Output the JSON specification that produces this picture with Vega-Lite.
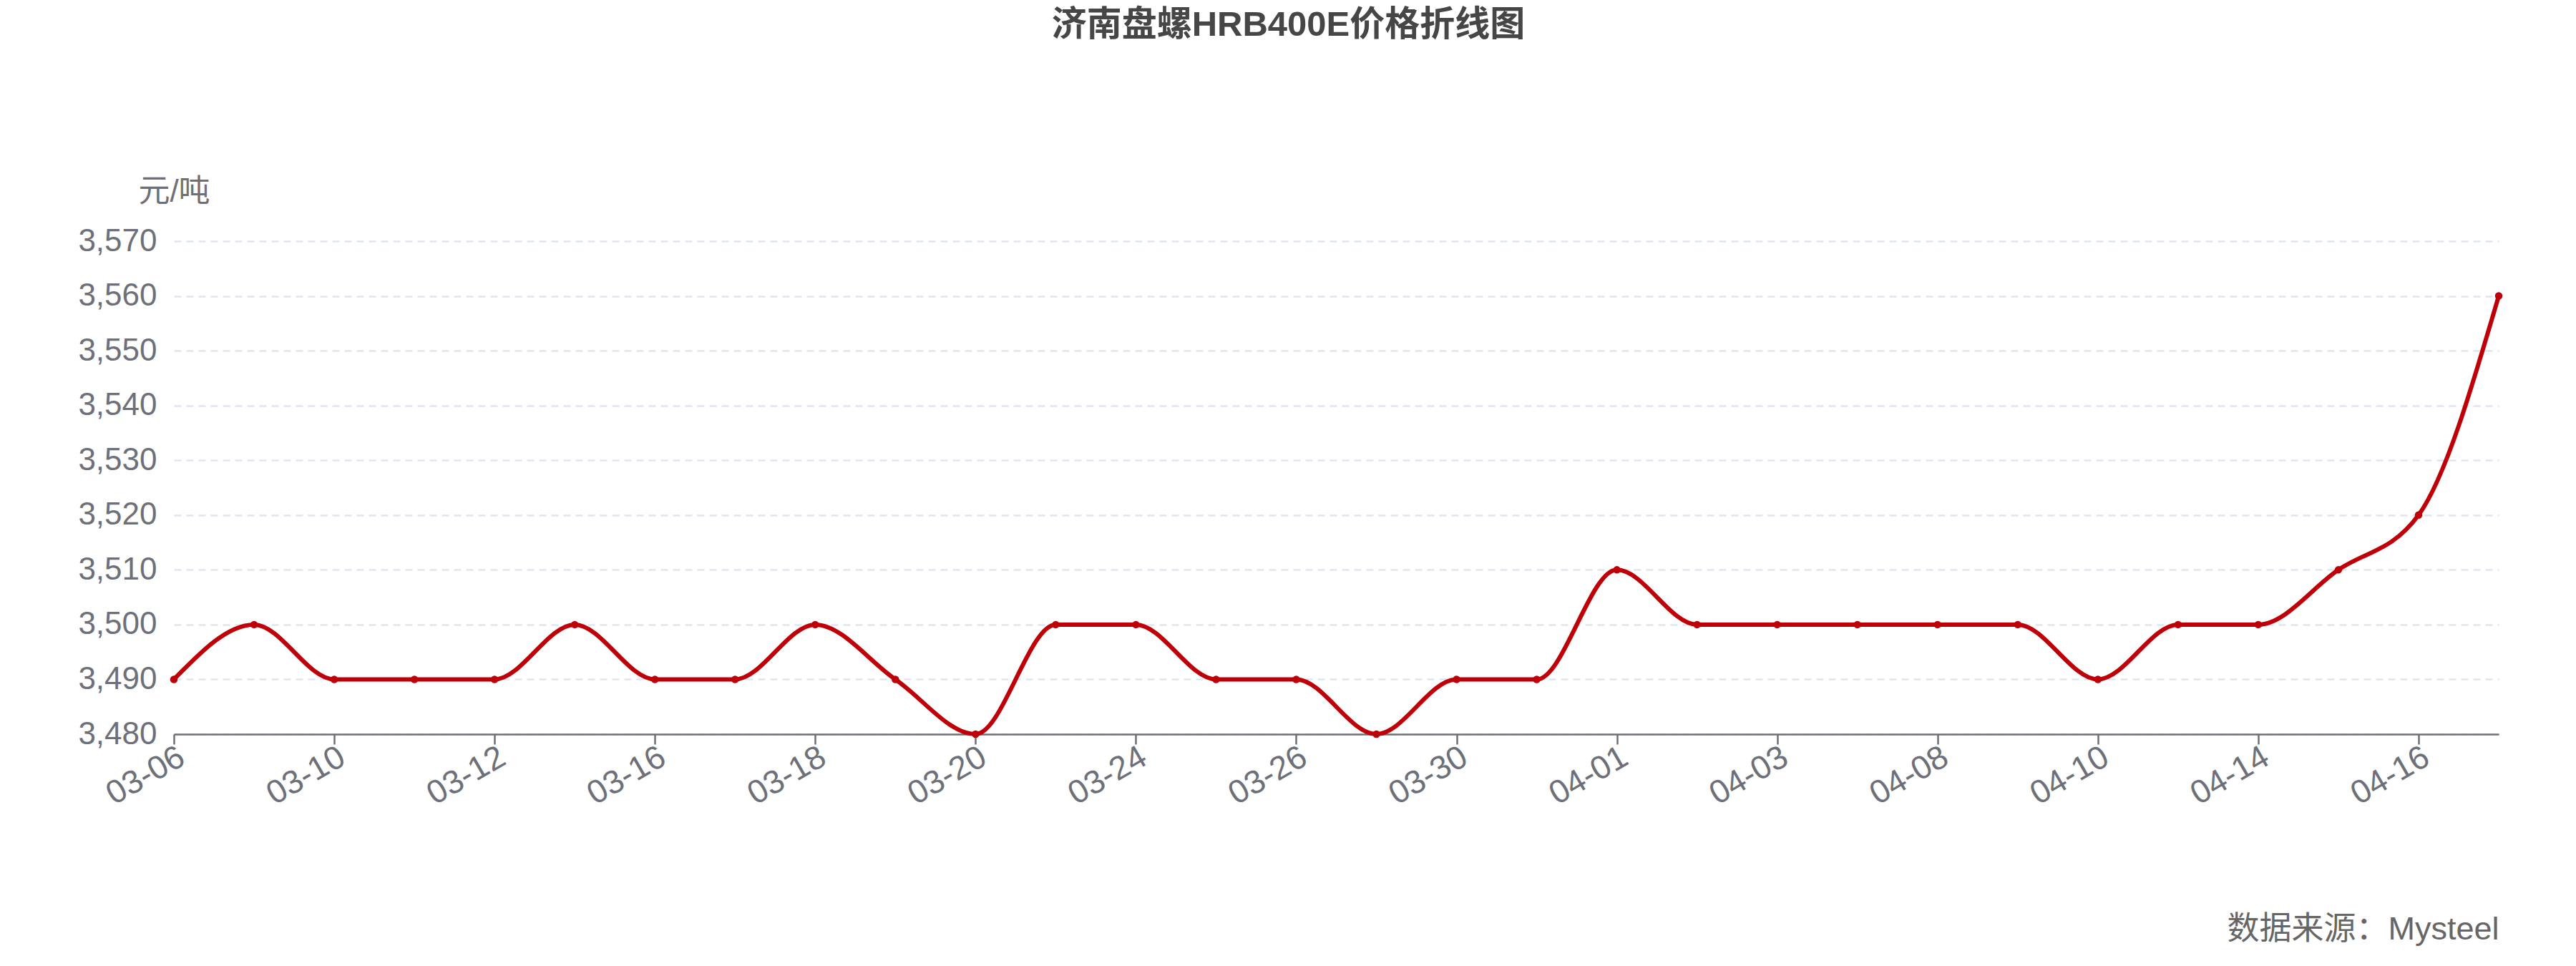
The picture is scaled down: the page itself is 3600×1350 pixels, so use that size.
{
  "$schema": "https://vega.github.io/schema/vega-lite/v6.json",
  "autosize": {"type": "none"},
  "width": 3249,
  "height": 689,
  "padding": {"left": 243, "top": 337, "right": 108, "bottom": 324},
  "background": "#ffffff",
  "config": {
    "font": "Liberation Sans, Noto Sans CJK SC",
    "view": {"stroke": null}
  },
  "title": {
    "text": "济南盘螺HRB400E价格折线图",
    "fontSize": 49,
    "fontWeight": "bold",
    "color": "#464646",
    "font": "Liberation Sans, Noto Sans CJK SC",
    "anchor": "middle",
    "frame": "group",
    "dx": -67,
    "offset": 186
  },
  "data": {
    "values": [
      {"date": "03-06", "price": 3490},
      {"date": "03-09", "price": 3500},
      {"date": "03-10", "price": 3490},
      {"date": "03-11", "price": 3490},
      {"date": "03-12", "price": 3490},
      {"date": "03-13", "price": 3500},
      {"date": "03-16", "price": 3490},
      {"date": "03-17", "price": 3490},
      {"date": "03-18", "price": 3500},
      {"date": "03-19", "price": 3490},
      {"date": "03-20", "price": 3480},
      {"date": "03-23", "price": 3500},
      {"date": "03-24", "price": 3500},
      {"date": "03-25", "price": 3490},
      {"date": "03-26", "price": 3490},
      {"date": "03-27", "price": 3480},
      {"date": "03-30", "price": 3490},
      {"date": "03-31", "price": 3490},
      {"date": "04-01", "price": 3510},
      {"date": "04-02", "price": 3500},
      {"date": "04-03", "price": 3500},
      {"date": "04-07", "price": 3500},
      {"date": "04-08", "price": 3500},
      {"date": "04-09", "price": 3500},
      {"date": "04-10", "price": 3490},
      {"date": "04-13", "price": 3500},
      {"date": "04-14", "price": 3500},
      {"date": "04-15", "price": 3510},
      {"date": "04-16", "price": 3520},
      {"date": "04-17", "price": 3560}
    ]
  },
  "encoding": {
    "x": {
      "field": "date",
      "type": "ordinal",
      "sort": null,
      "scale": {"type": "point", "padding": 0},
      "axis": {
        "title": "数据来源：Mysteel",
        "titleFontSize": 45,
        "titleFontWeight": "normal",
        "titleColor": "#666666",
        "titleAnchor": "end",
        "titleAlign": "right",
        "titleBaseline": "middle",
        "titleX": 3249,
        "titleY": 272,
        "values": ["03-06", "03-10", "03-12", "03-16", "03-18", "03-20", "03-24", "03-26", "03-30", "04-01", "04-03", "04-08", "04-10", "04-14", "04-16"],
        "labelAngle": -30,
        "labelAlign": "right",
        "labelBaseline": "top",
        "labelFontSize": 46,
        "labelColor": "#6e7079",
        "labelPadding": -5,
        "labelOverlap": false,
        "labelFlush": false,
        "domainColor": "#6e7079",
        "domainWidth": 2.5,
        "tickColor": "#6e7079",
        "tickWidth": 2.5,
        "tickSize": 14,
        "grid": false
      }
    },
    "y": {
      "field": "price",
      "type": "quantitative",
      "scale": {"domain": [3480, 3570], "nice": false, "zero": false},
      "axis": {
        "title": "元/吨",
        "titleAngle": 0,
        "titleFontSize": 44,
        "titleFontWeight": "normal",
        "titleColor": "#6e7079",
        "titleAlign": "center",
        "titleBaseline": "middle",
        "titleX": 0,
        "titleY": -69,
        "values": [3480, 3490, 3500, 3510, 3520, 3530, 3540, 3550, 3560, 3570],
        "format": ",d",
        "labelFontSize": 44,
        "labelColor": "#6e7079",
        "labelPadding": 24,
        "domain": false,
        "ticks": false,
        "grid": true,
        "gridColor": "#e0e6f1",
        "gridWidth": 2.5,
        "gridDash": [10, 7]
      }
    }
  },
  "layer": [
    {
      "mark": {"type": "line", "interpolate": "monotone", "color": "#c00008", "strokeWidth": 6}
    },
    {
      "mark": {"type": "point", "filled": true, "color": "#c00008", "size": 110, "opacity": 1}
    }
  ]
}
